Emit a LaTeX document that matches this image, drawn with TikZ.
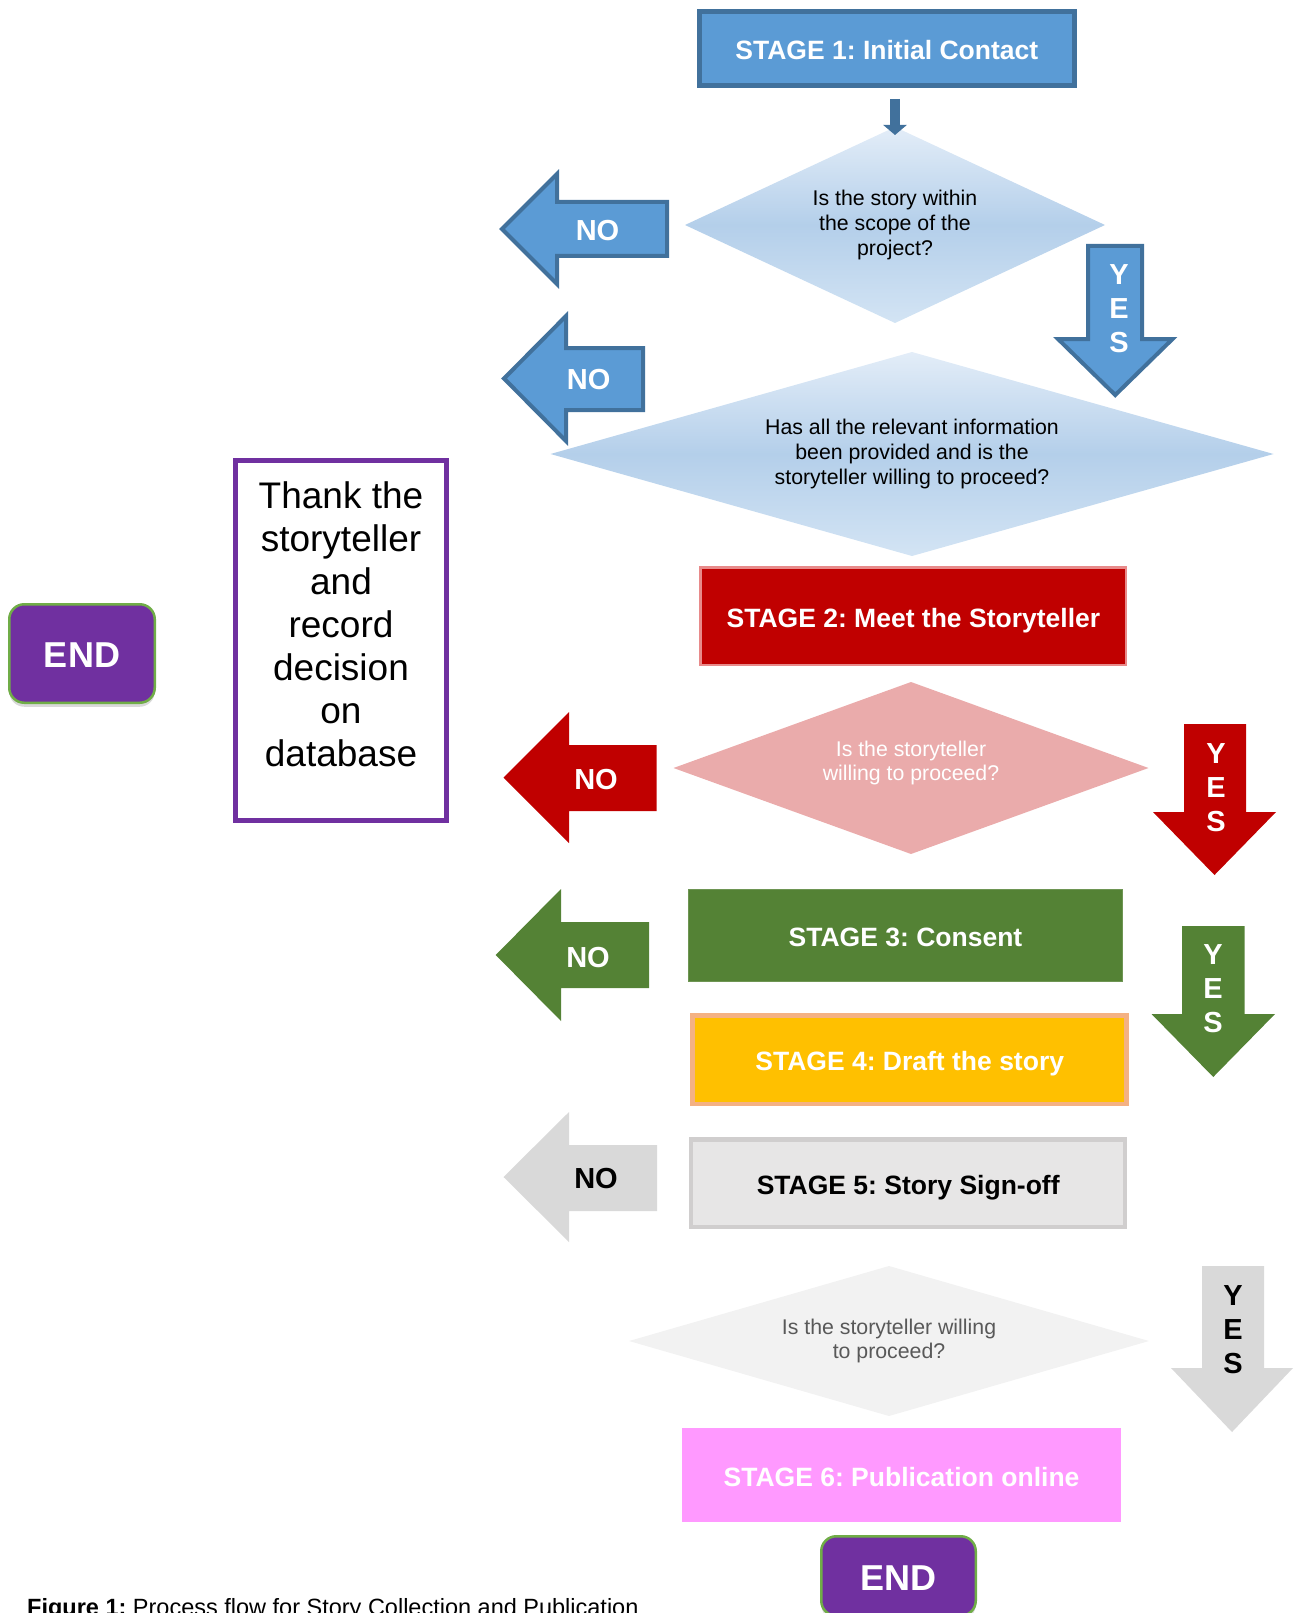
\documentclass[tikz,border=0pt]{standalone}
\usepackage{fontspec}
\setmainfont{Liberation Sans}
\usetikzlibrary{shapes.geometric,arrows.meta,calc,shadows}

\definecolor{blueF}{HTML}{5B9BD5}
\definecolor{blueD}{HTML}{41719C}
\definecolor{dTop}{HTML}{E3EDF8}
\definecolor{dMid}{HTML}{B4CFEA}
\definecolor{dBot}{HTML}{D3E4F4}
\definecolor{redC}{HTML}{C00000}
\definecolor{redB}{HTML}{E88A8A}
\definecolor{pinkD}{HTML}{EAABAB}
\definecolor{greenC}{HTML}{548235}
\definecolor{yellowC}{HTML}{FFC000}
\definecolor{orangeB}{HTML}{F4B183}
\definecolor{grayA}{HTML}{D9D9D9}
\definecolor{grayF}{HTML}{E7E6E6}
\definecolor{grayB}{HTML}{D0CECE}
\definecolor{lightD}{HTML}{F2F2F2}
\definecolor{textG}{HTML}{595959}
\definecolor{pinkC}{HTML}{FF99FF}
\definecolor{purpleC}{HTML}{7030A0}
\definecolor{greenE}{HTML}{70AD47}

% left-pointing block arrow: style, tip x, head base x, head top, head bottom, body top, body bottom, right x
\newcommand{\blockleft}[8]{\path[#1] (#8,#6) -- (#3,#6) -- (#3,#4) -- (#2,{(#4+#5)/2}) -- (#3,#5) -- (#3,#7) -- (#8,#7) -- cycle;}
% down-pointing block arrow: style, body left, body right, top, head y, head left, head right, tip y
\newcommand{\blockdown}[8]{\path[#1] (#2,#4) -- (#3,#4) -- (#3,#5) -- (#7,#5) -- ({(#6+#7)/2},#8) -- (#6,#5) -- (#2,#5) -- cycle;}

\begin{document}
\frenchspacing
\begin{tikzpicture}[x=1pt,y=-1pt,
  stage/.style={rectangle,inner sep=0pt,outer sep=0pt,align=center,text height=22pt,text depth=0pt,
    font=\fontsize{26.5}{31}\selectfont\bfseries},
  decision/.style={diamond,inner sep=0pt,outer sep=0pt,align=center,font=\fontsize{21.3}{24.6}\selectfont},
  blab/.style={font=\fontsize{29}{34}\selectfont\bfseries,align=center,inner sep=0pt},
  endbox/.style={rectangle,rounded corners=15pt,fill=purpleC,draw=greenE,line width=2.5pt,text=white,
    font=\fontsize{36}{40}\selectfont\bfseries,inner sep=0pt,outer sep=0pt,text height=28.8pt,text depth=0pt,
    drop shadow={shadow xshift=0pt,shadow yshift=-4pt,opacity=0.3}},
  bluearrow/.style={fill=blueF,draw=blueD,line width=4pt},
]
\useasboundingbox (0,0) rectangle (1299,1613);

% ---- stages ----
\node[stage,fill=blueF,draw=blueD,line width=5pt,text=white,minimum width=375pt,minimum height=74pt] (s1) at (886.8,48.5) {STAGE 1: Initial Contact};
\node[stage,fill=redC,draw=redB,line width=2.5pt,text=white,minimum width=425.5pt,minimum height=97.5pt] (s2) at (913.4,616) {STAGE 2: Meet the Storyteller};
\node[stage,fill=greenC,draw=greenC!85!white,line width=1pt,text=white,minimum width=434.5pt,minimum height=92pt] (s3) at (905.5,935.5) {STAGE 3: Consent};
\node[stage,fill=yellowC,draw=orangeB,line width=4.5pt,text=white,minimum width=434pt,minimum height=88.5pt] (s4) at (909.7,1059.5) {STAGE 4: Draft the story};
\node[stage,fill=grayF,draw=grayB,line width=4.5pt,text=black,minimum width=434pt,minimum height=87.5pt] (s5) at (908.2,1183) {STAGE 5: Story Sign-off};
\node[stage,fill=pinkC,text=white,minimum width=439pt,minimum height=94pt] (s6) at (901.5,1475) {STAGE 6: Publication online};

% ---- decisions ----
\node[decision,top color=dTop,bottom color=dBot,middle color=dMid,shape aspect=2.15,minimum width=420pt,minimum height=196pt] (d1) at (895,225) {Is the story within\\the scope of the\\project?};
\node[decision,top color=dTop,bottom color=dBot,middle color=dMid,shape aspect=3.55,minimum width=723pt,minimum height=204pt] (d2) at (912,454) {Has all the relevant information\\been provided and is the\\storyteller willing to proceed?};
\node[decision,fill=pinkD,text=white,shape aspect=2.76,minimum width=475pt,minimum height=172pt,text depth=14.5pt] (d3) at (911,768) {Is the storyteller\\willing to proceed?};
\node[decision,fill=lightD,text=textG,shape aspect=3.47,minimum width=520pt,minimum height=150pt] (d4) at (889,1341) {Is the storyteller willing\\to proceed?};

% ---- small connector ----
\draw[blueD,line width=10pt,-{Triangle[width=23pt,length=10pt]}] ($(s1.south -| d1.north)+(0,13.5)$) -- ($(d1.north)+(0,8)$);

% ---- NO arrows ----
\blockleft{bluearrow}{502}{557}{174}{284}{202}{256}{667}
\node[blab,text=white] (no1) at (597.5,231) {NO};
\blockleft{bluearrow}{504}{566}{316}{441}{348}{410}{643}
\node[blab,text=white] (no2) at (588.6,380) {NO};
\blockleft{fill=redC}{503.5}{569}{712}{843}{745}{811}{656.5}
\node[blab,text=white] (no3) at (596,780) {NO};
\blockleft{fill=greenC}{495.7}{561}{889}{1021}{922}{988}{649}
\node[blab,text=white] (no4) at (588,958) {NO};
\blockleft{fill=grayA}{503.5}{569}{1112}{1242}{1145}{1211}{657}
\node[blab,text=black] (no5) at (596,1179) {NO};

% ---- YES arrows ----
\blockdown{bluearrow}{1088}{1142}{246}{339}{1058}{1172.5}{395}
\node[blab,text=white] (yes1) at (1119,309) {Y\\E\\S};
\blockdown{fill=redC}{1184}{1246}{724}{812}{1153}{1276}{875}
\node[blab,text=white] (yes2) at (1216,788) {Y\\E\\S};
\blockdown{fill=greenC}{1182}{1244.5}{926}{1014}{1151.5}{1275}{1077}
\node[blab,text=white] (yes3) at (1213,989) {Y\\E\\S};
\blockdown{fill=grayA}{1202}{1264}{1266}{1368}{1171}{1293}{1432}
\node[blab,text=black] (yes4) at (1233,1330) {Y\\E\\S};

% ---- thank box ----
\node[draw=purpleC,line width=5pt,minimum width=211pt,minimum height=360pt,inner sep=0pt,outer sep=0pt] (thankbox) at (341,640.5) {};
\node[anchor=north,inner sep=0pt,align=center,font=\fontsize{37}{43}\selectfont] (thank) at (341,481) {Thank the\\storyteller\\and\\record\\decision\\on\\database};

% ---- END boxes ----
\node[endbox,minimum width=145.5pt,minimum height=98.5pt] (endleft) at (82,653.5) {END};
\node[endbox,minimum width=154.5pt,minimum height=79.5pt] (endbottom) at (898.5,1576) {END};

% ---- caption ----
\node[anchor=base west,inner sep=0pt,font=\fontsize{23.5}{28}\selectfont] (caption) at (27,1615) {\textbf{Figure 1:} Process flow for Story Collection and Publication};
\end{tikzpicture}
\end{document}
